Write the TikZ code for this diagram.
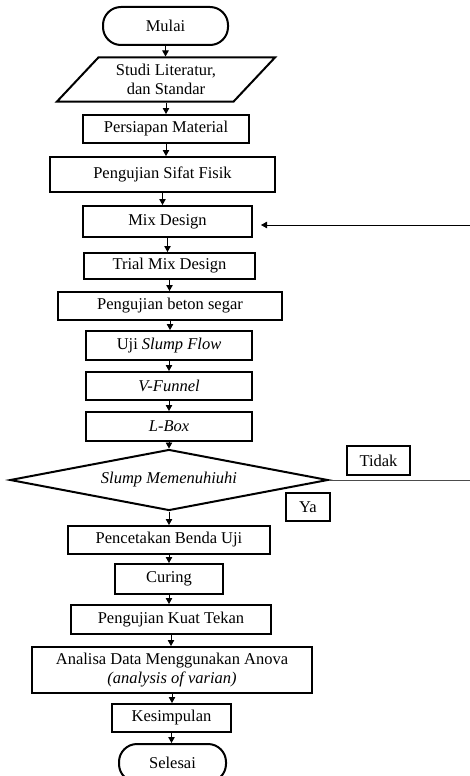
\documentclass[tikz,border=0pt]{standalone}
\usepackage{fontspec}
\setmainfont{Liberation Serif}
\usetikzlibrary{shapes.geometric,arrows.meta}
\newcommand{\fs}{\fontsize{16.5}{19}\selectfont}
\tikzset{
  box/.style={draw, line width=2pt, rectangle, inner sep=0pt, align=center, font=\fs},
  term/.style={draw, line width=2pt, rectangle, rounded corners=18pt, inner sep=0pt, font=\fs},
  arr/.style={line width=0.9pt, -{Triangle[length=6pt,width=6.5pt]}},
}
\begin{document}
\begin{tikzpicture}[x=1pt,y=-1pt]
\useasboundingbox (0,0) rectangle (470,776);
\node[term, minimum width=125pt, minimum height=38pt] (mulai) at (165.5,26) {Mulai};
\node[draw, line width=2pt, trapezium, trapezium left angle=45, trapezium right angle=135,
      trapezium stretches=true, minimum width=218pt, minimum height=44pt, inner sep=0pt,
      align=center, font=\fs] (studi) at (166,79.5) {Studi Literatur,\\dan Standar};
\node[box, minimum width=166pt, minimum height=28pt] (pm) at (166,129) {Persiapan Material};
\node[box, minimum width=225pt, minimum height=35pt] (fisik) at (162.5,174.5) {Pengujian Sifat Fisik};
\node[box, minimum width=169pt, minimum height=31pt] (mix) at (167.5,221.5) {Mix Design};
\node[box, minimum width=171pt, minimum height=26pt] (trial) at (169.5,266) {Trial Mix Design};
\node[box, minimum width=224pt, minimum height=28pt] (beton) at (170,306) {Pengujian beton segar};
\node[box, minimum width=166pt, minimum height=29pt] (slump) at (169,345.5) {Uji \textit{Slump Flow}};
\node[box, minimum width=166pt, minimum height=28pt] (vf) at (169,386) {\textit{V-Funnel}};
\node[box, minimum width=166pt, minimum height=29pt] (lbox) at (169,426.5) {\textit{L-Box}};
\node[draw, line width=2pt, diamond, shape aspect=5.2, minimum width=318pt, minimum height=61pt,
      inner sep=0pt, font=\fs] (dec) at (169,480) {\textit{Slump Memenuhiuhi}};
\node[box, minimum width=63pt, minimum height=29pt] (tidak) at (378.5,460.5) {Tidak};
\node[box, minimum width=44pt, minimum height=28pt] (ya) at (308,507) {Ya};
\node[box, minimum width=202pt, minimum height=28pt] (cetak) at (169,540) {Pencetakan Benda Uji};
\node[box, minimum width=108pt, minimum height=30pt] (curing) at (169,579) {Curing};
\node[box, minimum width=200pt, minimum height=29pt] (kuat) at (171,619.5) {Pengujian Kuat Tekan};
\node[box, minimum width=280pt, minimum height=46pt] (anal) at (172,670) {Analisa Data Menggunakan Anova\\\textit{(analysis of varian)}};
\node[box, minimum width=119pt, minimum height=28pt] (kes) at (171.5,718) {Kesimpulan};
\node[term, minimum width=107pt, minimum height=38pt] (selesai) at (172.5,763) {Selesai};
\coordinate (r1) at (470,225);
\coordinate (r2) at (470,480);
\draw[arr] (mulai.south) -- (mulai.south |- studi.north);
\draw[arr] (studi.south) -- (studi.south |- pm.north);
\draw[arr] (pm.south) -- (pm.south |- fisik.north);
\draw[arr] (fisik.south) -- (fisik.south |- mix.north);
\draw[arr] (mix.south) -- (mix.south |- trial.north);
\draw[arr] (trial.south) -- (trial.south |- beton.north);
\draw[arr] (beton.south) -- (beton.south |- slump.north);
\draw[arr] (slump.south) -- (slump.south |- vf.north);
\draw[arr] (vf.south) -- (vf.south |- lbox.north);
\draw[arr] (lbox.south) -- (lbox.south |- dec.north);
\draw[arr] (dec.south) -- (dec.south |- cetak.north);
\draw[arr] (cetak.south) -- (cetak.south |- curing.north);
\draw[arr] (curing.south) -- (curing.south |- kuat.north);
\draw[arr] (kuat.south) -- (kuat.south |- anal.north);
\draw[arr] (anal.south) -- (anal.south |- kes.north);
\draw[arr] (kes.south) -- (kes.south |- selesai.north);
\draw[arr, shorten >=8pt] (r1) -- (mix.east |- r1);
\draw[line width=1pt, black!70] (dec.east) -- (r2);
\end{tikzpicture}
\end{document}
